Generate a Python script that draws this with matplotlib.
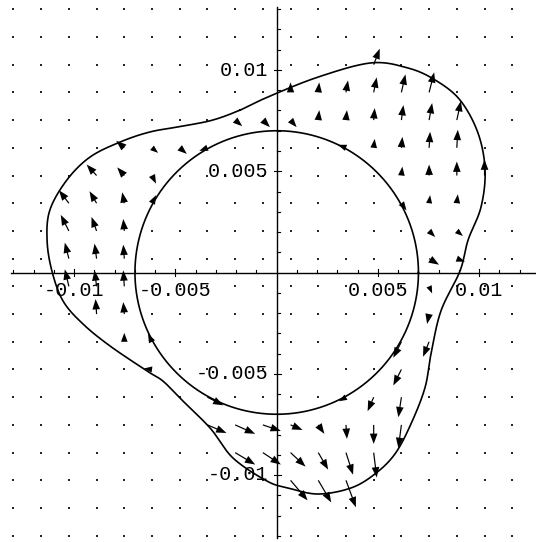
import numpy as np
import matplotlib
matplotlib.use("Agg")
import matplotlib.pyplot as plt

# ---------------------------------------------------------------------------
# Data
# ---------------------------------------------------------------------------
# Sampling lattice of the vector field: 20 x 20 points on [-0.013, 0.013]^2
GRID_MIN, GRID_MAX, GRID_N = -0.013, 0.013, 20

# Nonzero field vectors: lattice column (left->right), lattice row (top->bottom),
# components in units of 1e-4
ARROW_COL = [13,
             10, 11, 12, 13, 14, 15,
             8, 9, 10, 11, 12, 13, 14, 15, 16,
             4, 5, 6, 7, 12, 13, 14, 15, 16,
             3, 4, 5, 14, 15, 16, 17,
             2, 3, 4, 5, 14, 15, 16,
             2, 3, 4, 15, 16,
             2, 3, 4, 15, 16,
             2, 3, 4, 15,
             3, 4, 15,
             4, 5, 14, 15,
             5, 14,
             7, 12, 13, 14,
             7, 8, 9, 10, 11, 12, 13, 14,
             8, 9, 10, 11, 12, 13,
             10, 11, 12]
ARROW_ROW = [2,
             3, 3, 3, 3, 3, 3,
             4, 4, 4, 4, 4, 4, 4, 4, 4,
             5, 5, 5, 5, 5, 5, 5, 5, 5,
             6, 6, 6, 6, 6, 6, 6,
             7, 7, 7, 7, 7, 7, 7,
             8, 8, 8, 8, 8,
             9, 9, 9, 9, 9,
             10, 10, 10, 10,
             11, 11, 11,
             12, 12, 12, 12,
             13, 13,
             14, 14, 14, 14,
             15, 15, 15, 15, 15, 15, 15, 15,
             16, 16, 16, 16, 16, 16,
             17, 17, 17]
ARROW_U = [3.0,
           0.0, 0.5, 1.0, 1.5, 2.0, 2.5,
           3.5, 3.5, 3.0, 0.5, 0.5, 0.5, 1.0, 1.5, 2.0,
           -4.0, 3.0, 3.5, -4.0, -4.0, 0.5, 0.5, 0.5, 0.5,
           -4.9, -3.5, 2.0, 0.5, 0.0, 0.0, 0.0,
           -4.9, -3.5, -1.0, 2.0, 2.5, 0.5, 0.5,
           -4.0, -2.5, -0.5, 3.0, 3.0,
           -2.0, -1.0, -0.5, 4.9, 4.0,
           -2.0, -1.0, -0.5, 1.5,
           -0.5, -0.5, -1.0,
           0.0, -2.0, -4.0, -3.0,
           -4.0, -4.0,
           7.9, -3.5, -3.0, -1.5,
           9.4, 9.9, 8.9, 5.9, 3.0, 0.5, 0.0, -1.5,
           9.9, 8.9, 7.4, 4.9, 3.5, 1.5,
           8.4, 6.4, 4.9]
ARROW_V = [7.9,
           4.9, 4.9, 5.9, 7.4, 8.9, 9.9,
           -3.0, -3.5, -3.5, 4.9, 4.9, 5.9, 7.4, 8.4, 9.4,
           3.5, -2.5, -3.0, -1.5, 1.5, 4.4, 5.4, 7.9, 8.9,
           5.4, 4.0, -4.0, 4.4, 5.4, 6.9, 7.9,
           6.4, 5.9, 5.4, 4.0, -3.5, 4.0, 4.4,
           7.9, 6.9, 5.9, -3.0, -2.5,
           7.9, 7.4, 6.9, -3.0, -1.5,
           8.4, 7.9, 7.9, -3.5,
           7.4, 5.9, -4.9,
           4.4, 4.0, -7.9, -7.4,
           0.5, -7.9,
           -4.0, -2.0, -6.9, -9.9,
           -4.0, -4.4, -3.0, -2.5, -4.4, -6.9, -9.4, -11.4,
           -5.9, -5.9, -6.9, -8.4, -10.9, -12.3,
           -9.9, -10.9, -13.3]

# Inner closed orbit: circle of radius 0.007
INNER_RADIUS = 0.007

# Outer closed orbit, traced counter-clockwise (units of 1e-3)
OUTER_X = [-0.43, 2.04, 4.66, 6.48, 7.82, 9.05, 9.94, 10.29, 10.09, 9.45,
           9.05, 8.11, 7.62, 7.32, 6.63, 5.84, 4.85, 3.67, 2.04, 0.56,
           -0.48, -2.16, -3.29, -4.78, -5.62, -6.41, -8.23, -9.57, -10.55, -11.10,
           -11.34, -11.20, -10.36, -9.22, -7.74, -6.26, -4.63, -3.15, -1.81][::-1]
OUTER_Y = [8.67, 9.65, 10.35, 10.10, 9.51, 8.52, 6.89, 5.06, 3.23, 1.60,
           0.07, -1.90, -4.02, -5.70, -7.48, -8.96, -9.95, -10.64, -10.94, -10.64,
           -10.30, -9.16, -7.68, -6.20, -5.36, -4.86, -3.63, -2.54, -1.41, 0.07,
           1.60, 3.09, 4.57, 5.70, 6.44, 6.94, 7.23, 7.53, 8.02][::-1]

# Axis ticks
TICK_STEP = 0.001
TICK_LIMIT = 0.013
MAJOR_TICKS = [-0.01, -0.005, 0.005, 0.01]
TICK_LABELS = ["-0.01", "-0.005", "0.005", "0.01"]

# ---------------------------------------------------------------------------
# Figure
# ---------------------------------------------------------------------------
W, H, DPI = 536, 542, 100
PX = 1.0 / 20250.0          # data units per pixel (same on both axes)

fig = plt.figure(figsize=(W / DPI, H / DPI), dpi=DPI)
fig.patch.set_facecolor("white")
ax = fig.add_axes([0, 0, 1, 1])
ax.set_xlim(-276.7 * PX, (W - 276.7) * PX)
ax.set_ylim(-(H - 272.5) * PX, 272.5 * PX)
ax.axis("off")

grid = np.linspace(GRID_MIN, GRID_MAX, GRID_N)

# field arrows
cols = np.array(ARROW_COL)
rows = np.array(ARROW_ROW)
ax.quiver(grid[cols], grid[GRID_N - 1 - rows],
          np.array(ARROW_U) * 1e-4, np.array(ARROW_V) * 1e-4,
          angles="xy", scale_units="xy", scale=1,
          units="dots", width=1.2, headwidth=6.4, headlength=8.6,
          headaxislength=8.6, color="black", zorder=4)

# vanishing field elsewhere: drawn as points
occupied = set(zip(ARROW_COL, ARROW_ROW))
dots = [(grid[c], grid[GRID_N - 1 - r]) for c in range(GRID_N)
        for r in range(GRID_N) if (c, r) not in occupied]
dx, dy = zip(*dots)
ax.scatter(dx, dy, s=1.8, marker="s", color="0.15", linewidths=0, zorder=2)

# inner orbit
th = np.linspace(0, 2 * np.pi, 500)
ax.plot(INNER_RADIUS * np.cos(th), INNER_RADIUS * np.sin(th),
        color="black", lw=1.2, zorder=3)


def closed_catmull_rom(xs, ys, n=24):
    pts = np.column_stack([xs, ys])
    m = len(pts)
    t = np.linspace(0, 1, n, endpoint=False)[:, None]
    segs = []
    for i in range(m):
        p0, p1, p2, p3 = pts[(i - 1) % m], pts[i], pts[(i + 1) % m], pts[(i + 2) % m]
        segs.append(0.5 * (2 * p1 + (-p0 + p2) * t
                           + (2 * p0 - 5 * p1 + 4 * p2 - p3) * t ** 2
                           + (-p0 + 3 * p1 - 3 * p2 + p3) * t ** 3))
    segs.append(pts[:1])
    out = np.vstack(segs)
    return out[:, 0], out[:, 1]


ox, oy = closed_catmull_rom(np.array(OUTER_X) * 1e-3, np.array(OUTER_Y) * 1e-3)
ax.plot(ox, oy, color="black", lw=1.2, zorder=3)

# axes through the origin
ax.plot([-TICK_LIMIT - 0.0001, TICK_LIMIT + 0.0001], [0, 0], color="black", lw=1.0, zorder=3)
ax.plot([0, 0], [-TICK_LIMIT - 0.0001, TICK_LIMIT + 0.0001], color="black", lw=1.0, zorder=3)

ticks = np.round(np.arange(-TICK_LIMIT, TICK_LIMIT + TICK_STEP / 2, TICK_STEP), 6)
for t in ticks:
    if abs(t) < 1e-9:
        continue
    major = any(abs(t - m) < 1e-9 for m in MAJOR_TICKS)
    lo, hi = (-3 * PX, 4 * PX) if major else (0, 3 * PX)
    ax.plot([t, t], [lo, hi], color="black", lw=0.8, zorder=3)
    ax.plot([lo, hi], [t, t], color="black", lw=0.8, zorder=3)

font = dict(family="Liberation Mono", size=14.5, color="black", zorder=5)
for t, lab in zip(MAJOR_TICKS, TICK_LABELS):
    ax.text(t, -8.5 * PX, lab, ha="center", va="top", **font)
    ax.text(-8.5 * PX, t, lab, ha="right", va="center", **font)

fig.savefig("out.png", dpi=DPI, facecolor="white")
